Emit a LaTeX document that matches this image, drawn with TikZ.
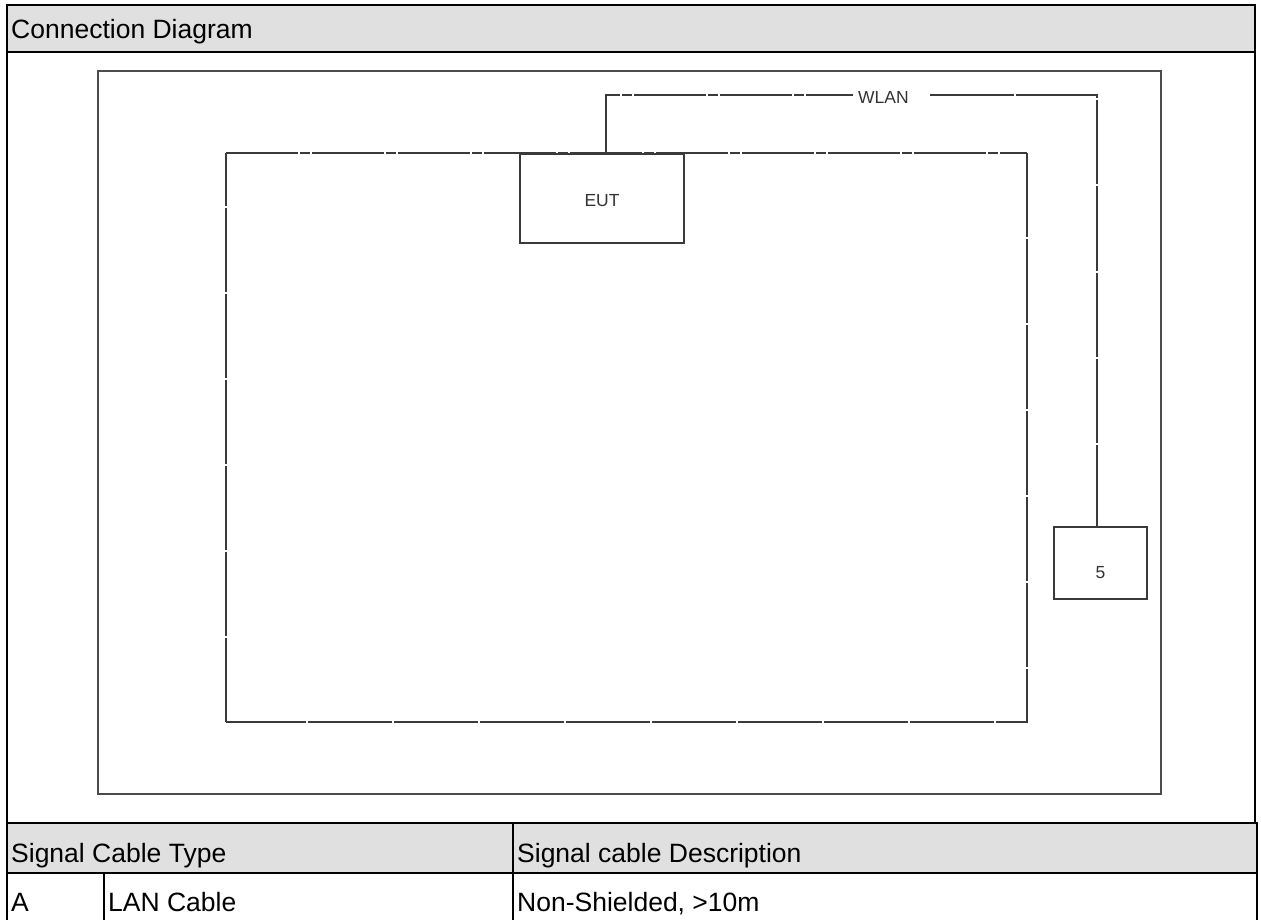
\documentclass[tikz,border=0pt]{standalone}
\usepackage{fontspec}
\setmainfont{Liberation Sans}
\definecolor{hdr}{HTML}{E0E0E0}
\definecolor{ink}{HTML}{3A3A3A}
\definecolor{txt}{HTML}{333333}
\begin{document}
\begin{tikzpicture}[x=1pt,y=-1pt,
  frame/.style={draw=black,line width=2.4pt},
  bigtext/.style={font=\fontsize{26.5}{30}\selectfont,anchor=base west,inner sep=0pt,text=black},
  smalltext/.style={font=\fontsize{17.5}{20}\selectfont,text=txt},
  device/.style={draw=ink,line width=2pt,fill=white,inner sep=0pt,text depth=0pt,smalltext},
  roomline/.style={draw=ink,line width=2pt,dash pattern=on 84pt off 2pt},
  toproomline/.style={draw=ink,line width=2pt,dash pattern=on 72pt off 2pt on 10pt off 2pt},
  cable/.style={draw=ink,line width=2pt,dash pattern=on 72pt off 2pt on 10pt off 2pt},
  cabler/.style={draw=ink,line width=2pt,dash pattern=on 84pt off 2pt},
  outerbox/.style={draw=black!70,line width=2.2pt}]
\useasboundingbox (0,0) rectangle (1261,920);
\fill[white] (0,0) rectangle (1261,920);

% frame and header
\path[frame,fill=hdr] (7,5) rectangle (1255,52);
\draw[frame] (7,52) -- (7,920);
\draw[frame] (1255,52) -- (1255,823);
\node[bigtext] (title) at (11,38.5) {Connection Diagram};

% table
\path[frame,fill=hdr] (7,823) rectangle (1257,873);
\draw[frame] (1257,873) -- (1257,920);
\draw[frame] (104,873) -- (104,920);
\draw[frame] (513,823) -- (513,920);
\node[bigtext] (h1) at (11,862) {Signal Cable Type};
\node[bigtext] (h2) at (517,862) {Signal cable Description};
\node[bigtext] (c1) at (11,911) {A};
\node[bigtext] (c2) at (108,911) {LAN Cable};
\node[bigtext] (c3) at (517,911) {Non-Shielded, >10m};

% test site boundary and room
\draw[outerbox] (98,71) rectangle (1161,794);
\draw[roomline] (226,722) -- (226,153);
\draw[toproomline] (226,153) -- (1027,153);
\draw[roomline] (1027,153) -- (1027,722) -- (226,722);

% devices
\node[device,minimum width=164pt,minimum height=89pt,text height=17pt] (EUT) at (602,198.5) {EUT};
\node[device,minimum width=93pt,minimum height=72pt,text height=30pt] (dev5) at (1100.5,563) {5};

% WLAN connection
\coordinate (wa) at (853,95);
\coordinate (wb) at (930,95);
\draw[cable] ([xshift=4pt]EUT.north) |- (wa);
\draw[cabler] (wb) -| ([xshift=-4pt]dev5.north);
\node[smalltext,anchor=base west,inner sep=0pt] (wlan) at (858,104) {WLAN};
\end{tikzpicture}
\end{document}
